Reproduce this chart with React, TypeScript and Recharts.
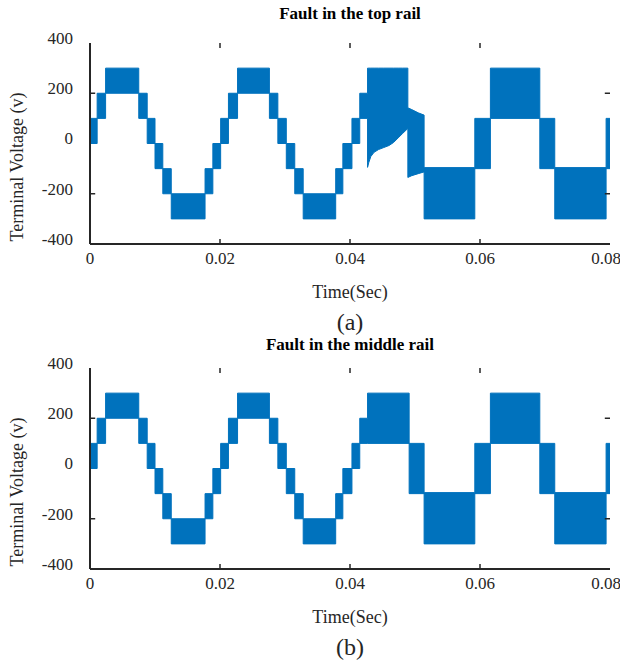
import { AreaChart, Area, XAxis, YAxis, ReferenceLine } from 'recharts'

// axis ticks
const timeTicks = [0, 0.02, 0.04, 0.06, 0.08]
const voltTicks = [-400, -200, 0, 200, 400]
const innerTimeTicks = [0.02, 0.04, 0.06]
const innerVoltTicks = [-200, 200]

// healthy 7-level staircase, same in both runs up to the fault (s, V)
const normalEdges = [
  0, 0.0011, 0.0024, 0.0075, 0.0088, 0.0100, 0.0112, 0.0125, 0.0177, 0.0189, 0.0201,
  0.0213, 0.0227, 0.0276, 0.0289, 0.0302, 0.0315, 0.0328, 0.0378, 0.0389, 0.0403, 0.0415, 0.0427,
]
const normalLo = [0, 100, 200, 100, 0, -100, -200, -300, -200, -100, 0, 100, 200, 100, 0, -100, -200, -300, -200, -100, 0, 100]
const normalHi = [100, 200, 300, 200, 100, 0, -100, -200, -100, 0, 100, 200, 300, 200, 100, 0, -100, -200, -100, 0, 100, 200]

// (a) top rail fault: transient envelope
const faultT = [0.0427, 0.0429, 0.0432, 0.0437, 0.0444, 0.0452, 0.0460, 0.0467, 0.0474, 0.0481, 0.0489, 0.0489, 0.0495, 0.0505, 0.0514]
const faultLo = [-95, -75, -52, -35, -24, -16, -8, 4, 22, 40, 60, -135, -128, -120, -113]
const faultHi = [300, 300, 300, 300, 300, 300, 300, 300, 300, 300, 300, 142, 135, 122, 113]

// (a) after the transient
const afterEdgesA = [0.0514, 0.0592, 0.0616, 0.0692, 0.0715, 0.0794, 0.08]
const afterLoA = [-300, -100, 100, -100, -300, -100]
const afterHiA = [-96, 100, 300, 100, -96, 100]

// (b) middle rail fault
const afterEdgesB = [0.0427, 0.0491, 0.0514, 0.0592, 0.0616, 0.0692, 0.0715, 0.0794, 0.08]
const afterLoB = [100, -100, -300, -100, 100, -100, -300, -100]
const afterHiB = [300, 100, -96, 100, 300, 100, -96, 100]

type Row = { t: number; v: [number, number] }

const stepRows = (edges: number[], lo: number[], hi: number[]): Row[] =>
  lo.flatMap((l, i) => [
    { t: edges[i], v: [l, hi[i]] as [number, number] },
    { t: edges[i + 1], v: [l, hi[i]] as [number, number] },
  ])

const curveRows = (t: number[], lo: number[], hi: number[]): Row[] =>
  t.map((x, i) => ({ t: x, v: [lo[i], hi[i]] as [number, number] }))

const dataA = [
  ...stepRows(normalEdges, normalLo, normalHi),
  ...curveRows(faultT, faultLo, faultHi),
  ...stepRows(afterEdgesA, afterLoA, afterHiA),
]
const dataB = [
  ...stepRows(normalEdges, normalLo, normalHi),
  ...stepRows(afterEdgesB, afterLoB, afterHiB),
]

const BLUE = '#0072bd'
const INK = '#262626'
const SERIF = 'Liberation Serif'

const XTick = ({ x, y, payload }: any) => (
  <text x={x} y={y} dy="0.71em" textAnchor="middle" fill={INK} fontFamily={SERIF} fontSize={17}>
    {String(payload.value)}
  </text>
)

const YTick = ({ x, y, payload }: any) => (
  <text x={x} y={y - 5} dy="0.35em" textAnchor="end" fill={INK} fontFamily={SERIF} fontSize={17}>
    {payload.value}
  </text>
)

function Panel({ data, top }: { data: Row[]; top: number }) {
  const xLen = 20 // V, inward tick length
  const yLen = 0.0008 // s
  return (
    <div style={{ position: 'absolute', left: 0, top }}>
      <AreaChart width={620} height={300} data={data} margin={{ top: 43, right: 10, left: 0, bottom: 26 }}>
        <XAxis dataKey="t" type="number" domain={[0, 0.08]} ticks={timeTicks} tick={<XTick />}
          tickLine={false} axisLine={{ stroke: INK, strokeWidth: 2 }} height={30} />
        <XAxis xAxisId="top" orientation="top" type="number" domain={[0, 0.08]} tick={false}
          tickLine={false} axisLine={{ stroke: INK, strokeWidth: 2 }} height={0} />
        <YAxis type="number" domain={[-400, 400]} ticks={voltTicks} tick={<YTick />} tickLine={false}
          tickMargin={11} axisLine={{ stroke: INK, strokeWidth: 2 }} width={90} />
        <YAxis yAxisId="right" orientation="right" type="number" domain={[-400, 400]} tick={false}
          tickLine={false} axisLine={{ stroke: INK, strokeWidth: 2 }} width={0} />
        <Area type="linear" dataKey="v" stroke={BLUE} strokeWidth={1} fill={BLUE} fillOpacity={1}
          isAnimationActive={false} dot={false} activeDot={false} />
        {innerTimeTicks.map(t => (
          <ReferenceLine key={'b' + t} segment={[{ x: t, y: -400 }, { x: t, y: -400 + xLen }]} stroke={INK} strokeWidth={1.5} />
        ))}
        {innerTimeTicks.map(t => (
          <ReferenceLine key={'t' + t} segment={[{ x: t, y: 400 }, { x: t, y: 400 - xLen }]} stroke={INK} strokeWidth={1.5} />
        ))}
        {innerVoltTicks.map(v => (
          <ReferenceLine key={'l' + v} segment={[{ x: 0, y: v }, { x: yLen, y: v }]} stroke={INK} strokeWidth={1.5} />
        ))}
        {innerVoltTicks.map(v => (
          <ReferenceLine key={'r' + v} segment={[{ x: 0.08, y: v }, { x: 0.08 - yLen, y: v }]} stroke={INK} strokeWidth={1.5} />
        ))}
      </AreaChart>
    </div>
  )
}

const text = (top: number, size: number, bold = false): React.CSSProperties => ({
  position: 'absolute', left: 90, width: 520, top, textAlign: 'center',
  fontFamily: SERIF, fontSize: size, lineHeight: `${size + 4}px`,
  fontWeight: bold ? 'bold' : 'normal', color: bold ? '#000' : INK, whiteSpace: 'nowrap',
})

const yLabel = (centerY: number): React.CSSProperties => ({
  position: 'absolute', left: 17 - 100, top: centerY - 11, width: 200, textAlign: 'center',
  fontFamily: SERIF, fontSize: 18, lineHeight: '22px', color: INK,
  transform: 'rotate(-90deg)', whiteSpace: 'nowrap',
})

export default function App() {
  return (
    <div style={{ position: 'absolute', left: 0, top: 0, width: 620, height: 662, background: '#fff' }}>
      <Panel data={dataA} top={0} />
      <Panel data={dataB} top={325} />
      <div style={text(3, 17, true)}>Fault in the top rail</div>
      <div style={text(281, 18)}>Time(Sec)</div>
      <div style={{ ...text(308, 24), left: 0, width: 700 }}>(a)</div>
      <div style={yLabel(167)}>Terminal Voltage (v)</div>
      <div style={text(334, 17, true)}>Fault in the middle rail</div>
      <div style={text(606, 18)}>Time(Sec)</div>
      <div style={{ ...text(633, 24), left: 0, width: 700 }}>(b)</div>
      <div style={yLabel(492)}>Terminal Voltage (v)</div>
    </div>
  )
}
